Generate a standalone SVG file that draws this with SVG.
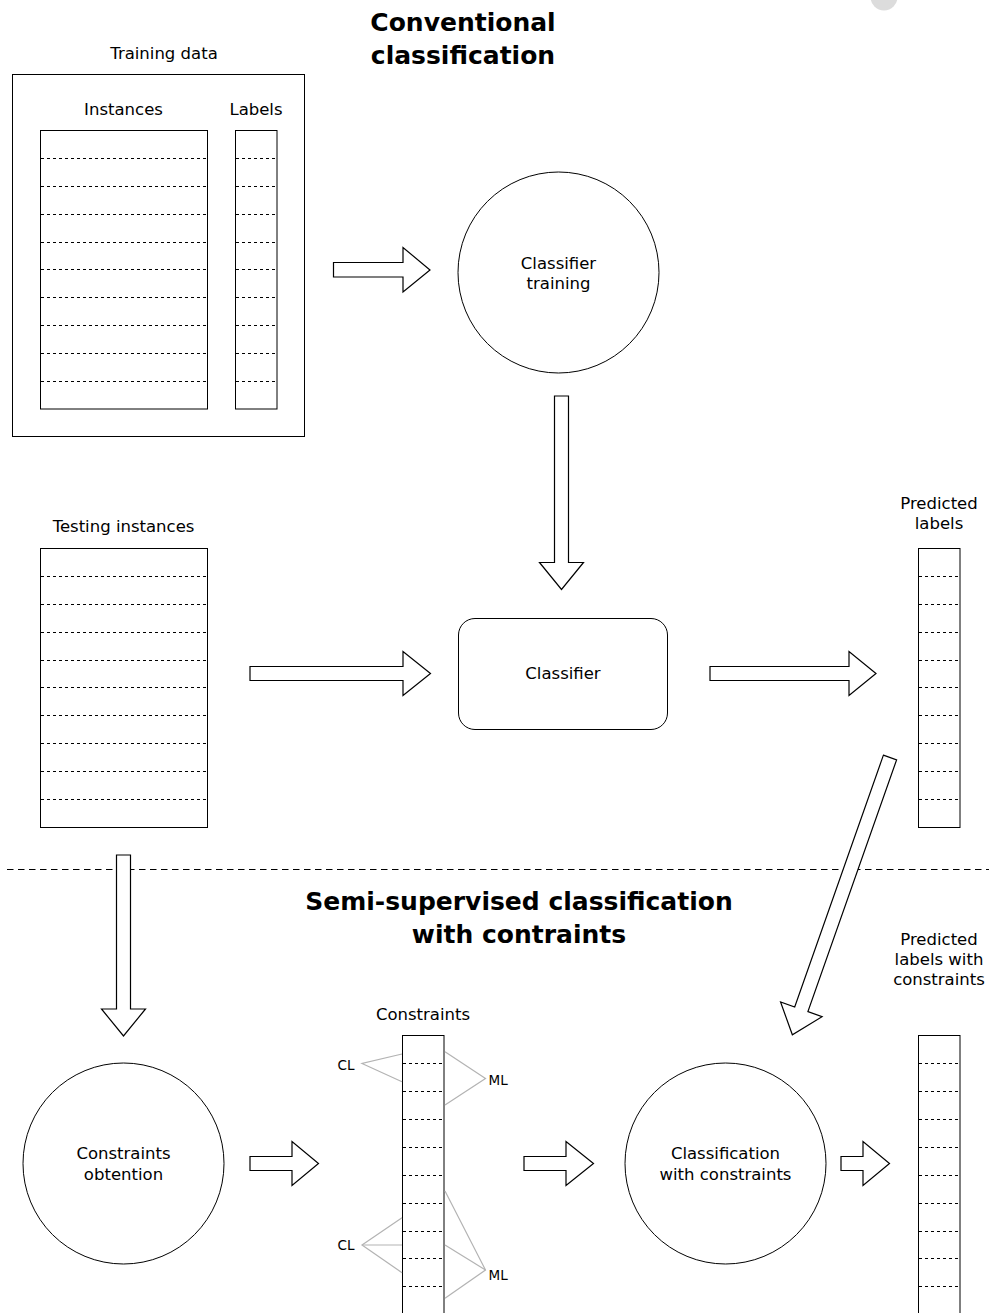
<svg xmlns="http://www.w3.org/2000/svg" width="989" height="1313" viewBox="0 0 989 1313">
<style>
.box{fill:#fff;stroke:#000;stroke-width:1}
.dash{fill:none;stroke:#000;stroke-width:1;stroke-dasharray:3 3}
.sep{fill:none;stroke:#000;stroke-width:1;stroke-dasharray:6.5 4.5}
.arrow{fill:#fff;stroke:#000;stroke-width:1.2;stroke-linejoin:miter}
.gray{fill:none;stroke:#b3b3b3;stroke-width:1.2}
text{font-family:"DejaVu Sans","Verdana",sans-serif;fill:#000}
.t{font-size:16.5px;text-anchor:middle}
.s{font-size:13.5px}
.title{font-size:25px;font-weight:bold;text-anchor:middle}
</style>
<rect width="989" height="1313" fill="#fff"/>
<circle cx="884" cy="-3" r="13.5" fill="#dcdcdc"/>

<g id="title-conventional">
<text class="title" x="463" y="31">Conventional</text>
<text class="title" x="463" y="64">classification</text>
</g>
<g id="title-semi">
<text class="title" x="519" y="910">Semi-supervised classification</text>
<text class="title" x="519" y="943">with contraints</text>
</g>

<g id="training-data">
<text class="t" x="164" y="59">Training data</text>
<rect class="box" x="12.5" y="74.5" width="292" height="362"/>
<text class="t" x="123.5" y="115">Instances</text>
<text class="t" x="256" y="115">Labels</text>
<rect class="box" x="40.5" y="130.5" width="167" height="278.5"/>
<path class="dash" d="M41 158.5H206M41 186.5H206M41 214.5H206M41 242.5H206M41 269.5H206M41 297.5H206M41 325.5H206M41 353.5H206M41 381.5H206"/>
<rect class="box" x="235.5" y="130.5" width="41.5" height="278.5"/>
<path class="dash" d="M236 158.5H275M236 186.5H275M236 214.5H275M236 242.5H275M236 269.5H275M236 297.5H275M236 325.5H275M236 353.5H275M236 381.5H275"/>
</g>

<g id="classifier-training">
<circle class="box" cx="558.5" cy="272.5" r="100.5"/>
<text class="t" x="558.5" y="269">Classifier</text>
<text class="t" x="558.5" y="289">training</text>
</g>

<g id="testing-instances">
<text class="t" x="123.5" y="532">Testing instances</text>
<rect class="box" x="40.5" y="548.5" width="167" height="279"/>
<path class="dash" d="M41 576.5H206M41 604.5H206M41 632.5H206M41 660.5H206M41 687.5H206M41 715.5H206M41 743.5H206M41 771.5H206M41 799.5H206"/>
</g>

<g id="classifier">
<rect class="box" x="458.5" y="618.5" width="209" height="111" rx="16.5" ry="16.5"/>
<text class="t" x="563" y="679">Classifier</text>
</g>

<g id="predicted-labels">
<text class="t" x="939" y="509">Predicted</text>
<text class="t" x="939" y="529">labels</text>
<rect class="box" x="918.5" y="548.5" width="41.5" height="279"/>
<path class="dash" d="M919 576.5H958M919 604.5H958M919 632.5H958M919 660.5H958M919 687.5H958M919 715.5H958M919 743.5H958M919 771.5H958M919 799.5H958"/>
</g>

<g id="separator">
<line class="sep" x1="7" y1="869.5" x2="989" y2="869.5"/>
</g>

<g id="constraints-obtention">
<circle class="box" cx="123.5" cy="1163.5" r="100.5"/>
<text class="t" x="123.5" y="1159">Constraints</text>
<text class="t" x="123.5" y="1180">obtention</text>
</g>

<g id="constraints">
<text class="t" x="423" y="1020">Constraints</text>
<rect class="box" x="402.5" y="1035.5" width="41.5" height="300"/>
<path class="dash" d="M403 1063.5H442M403 1091.5H442M403 1119.5H442M403 1147.5H442M403 1175.5H442M403 1203.5H442M403 1231.5H442M403 1258.5H442M403 1286.5H442"/>
<polyline class="gray" points="402,1054 362,1063.5 402,1081.7"/>
<polyline class="gray" points="445,1051.7 485.5,1078.5 445,1105"/>
<polyline class="gray" points="402,1217.7 362,1245 402,1272.7"/>
<line class="gray" x1="362" y1="1245" x2="402" y2="1245"/>
<polyline class="gray" points="445,1191 485.5,1270 445,1298.3"/>
<line class="gray" x1="445" y1="1245" x2="485.5" y2="1270"/>
<text class="s" x="337.5" y="1070">CL</text>
<text class="s" x="488.5" y="1085">ML</text>
<text class="s" x="337.5" y="1250">CL</text>
<text class="s" x="488.5" y="1280">ML</text>
</g>

<g id="classification-with-constraints">
<circle class="box" cx="725.5" cy="1163.5" r="100.5"/>
<text class="t" x="725.5" y="1159">Classification</text>
<text class="t" x="725.5" y="1180">with constraints</text>
</g>

<g id="predicted-labels-with-constraints">
<text class="t" x="939" y="945">Predicted</text>
<text class="t" x="939" y="965">labels with</text>
<text class="t" x="939" y="985">constraints</text>
<rect class="box" x="918.5" y="1035.5" width="41.5" height="300"/>
<path class="dash" d="M919 1063.5H958M919 1091.5H958M919 1119.5H958M919 1147.5H958M919 1175.5H958M919 1203.5H958M919 1231.5H958M919 1258.5H958M919 1286.5H958"/>
</g>

<g id="connectors">
<polygon class="arrow" points="333.5,262.5 403,262.5 403,247.5 430,270 403,292 403,277 333.5,277"/>
<polygon class="arrow" points="554.5,396 568.5,396 568.5,562.5 583.5,562.5 561.5,589.5 539.5,562.5 554.5,562.5"/>
<polygon class="arrow" points="250,666.5 403,666.5 403,651.5 430.5,673.5 403,695.5 403,680.5 250,680.5"/>
<polygon class="arrow" points="710,666.5 849,666.5 849,651.5 876,673.5 849,695.5 849,680.5 710,680.5"/>
<polygon class="arrow" points="116.5,855 130.5,855 130.5,1009 145.5,1009 123.5,1036 101.5,1009 116.5,1009"/>
<polygon class="arrow" transform="translate(890,757.5) rotate(19.4)" points="-7,0 7,0 7,267 22,267 0,294 -22,267 -7,267"/>
<polygon class="arrow" points="250,1156.5 292,1156.5 292,1141.5 318.5,1163.5 292,1185.5 292,1170.5 250,1170.5"/>
<polygon class="arrow" points="524,1156.5 566,1156.5 566,1141.5 593.5,1163.5 566,1185.5 566,1170.5 524,1170.5"/>
<polygon class="arrow" points="841,1156.5 863,1156.5 863,1141.5 889.5,1163.5 863,1185.5 863,1170.5 841,1170.5"/>
</g>
</svg>
